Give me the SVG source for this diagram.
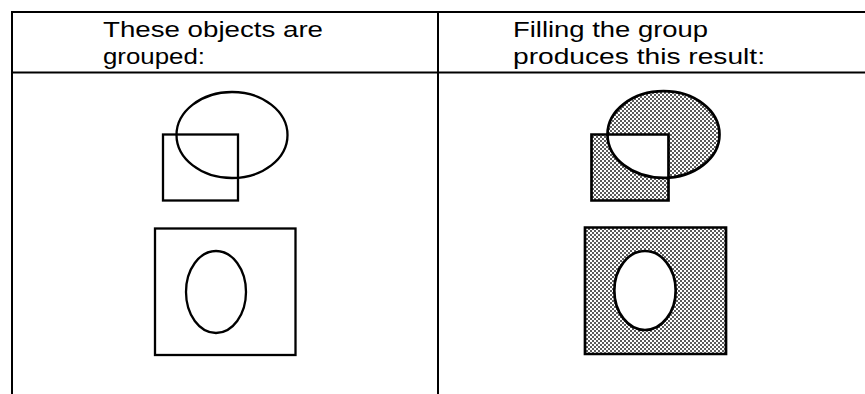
<svg xmlns="http://www.w3.org/2000/svg" width="865" height="394" viewBox="0 0 865 394">
  <defs>
    <pattern id="dots" x="0" y="0" width="4" height="4" patternUnits="userSpaceOnUse">
      <rect width="4" height="4" fill="#ffffff"/>
      <rect x="0.2" y="0.2" width="1.6" height="1.6" fill="#000000"/>
      <rect x="2.2" y="2.2" width="1.6" height="1.6" fill="#000000"/>
    </pattern>
  </defs>
  <style>
    .line { stroke: #000; stroke-width: 2; fill: none; }
    .shape { stroke: #000; stroke-width: 2.3; fill: none; }
    .filled { stroke: #000; stroke-width: 2.7; fill: url(#dots); fill-rule: evenodd; }
    .label { font-family: "Liberation Sans", Arial, sans-serif; font-size: 22px; fill: #000; }
  </style>
  <rect width="865" height="394" fill="#ffffff"/>

  <g id="table">
    <line class="line" x1="12" y1="12" x2="865" y2="12"/>
    <line class="line" x1="12" y1="72.5" x2="865" y2="72.5"/>
    <line class="line" x1="12" y1="11" x2="12" y2="394"/>
    <line class="line" x1="438" y1="11" x2="438" y2="394"/>
  </g>

  <g id="header-left">
    <text class="label" x="103" y="37" textLength="220" lengthAdjust="spacingAndGlyphs">These objects are</text>
    <text class="label" x="103" y="64" textLength="102" lengthAdjust="spacingAndGlyphs">grouped:</text>
  </g>
  <g id="header-right">
    <text class="label" x="513" y="37" textLength="195" lengthAdjust="spacingAndGlyphs">Filling the group</text>
    <text class="label" x="513" y="64" textLength="252" lengthAdjust="spacingAndGlyphs">produces this result:</text>
  </g>

  <g id="group-top-left">
    <ellipse class="shape" cx="232" cy="135" rx="55.5" ry="43"/>
    <rect class="shape" x="163" y="134.5" width="75" height="66"/>
  </g>

  <g id="group-bottom-left">
    <rect class="shape" x="155" y="228.5" width="140.5" height="126.5"/>
    <ellipse class="shape" cx="216" cy="292" rx="30" ry="41"/>
  </g>

  <g id="group-top-right">
    <path class="filled" d="M 591.5 134.5 H 668.5 V 200.5 H 591.5 Z M 607.5 134.5 A 56 43.3 0 1 1 719.5 134.5 A 56 43.3 0 1 1 607.5 134.5 Z"/>
  </g>

  <g id="group-bottom-right">
    <path class="filled" d="M 585 227.5 H 726 V 354 H 585 Z M 614.3 290.5 A 30.7 39.5 0 1 1 675.7 290.5 A 30.7 39.5 0 1 1 614.3 290.5 Z"/>
  </g>
</svg>
